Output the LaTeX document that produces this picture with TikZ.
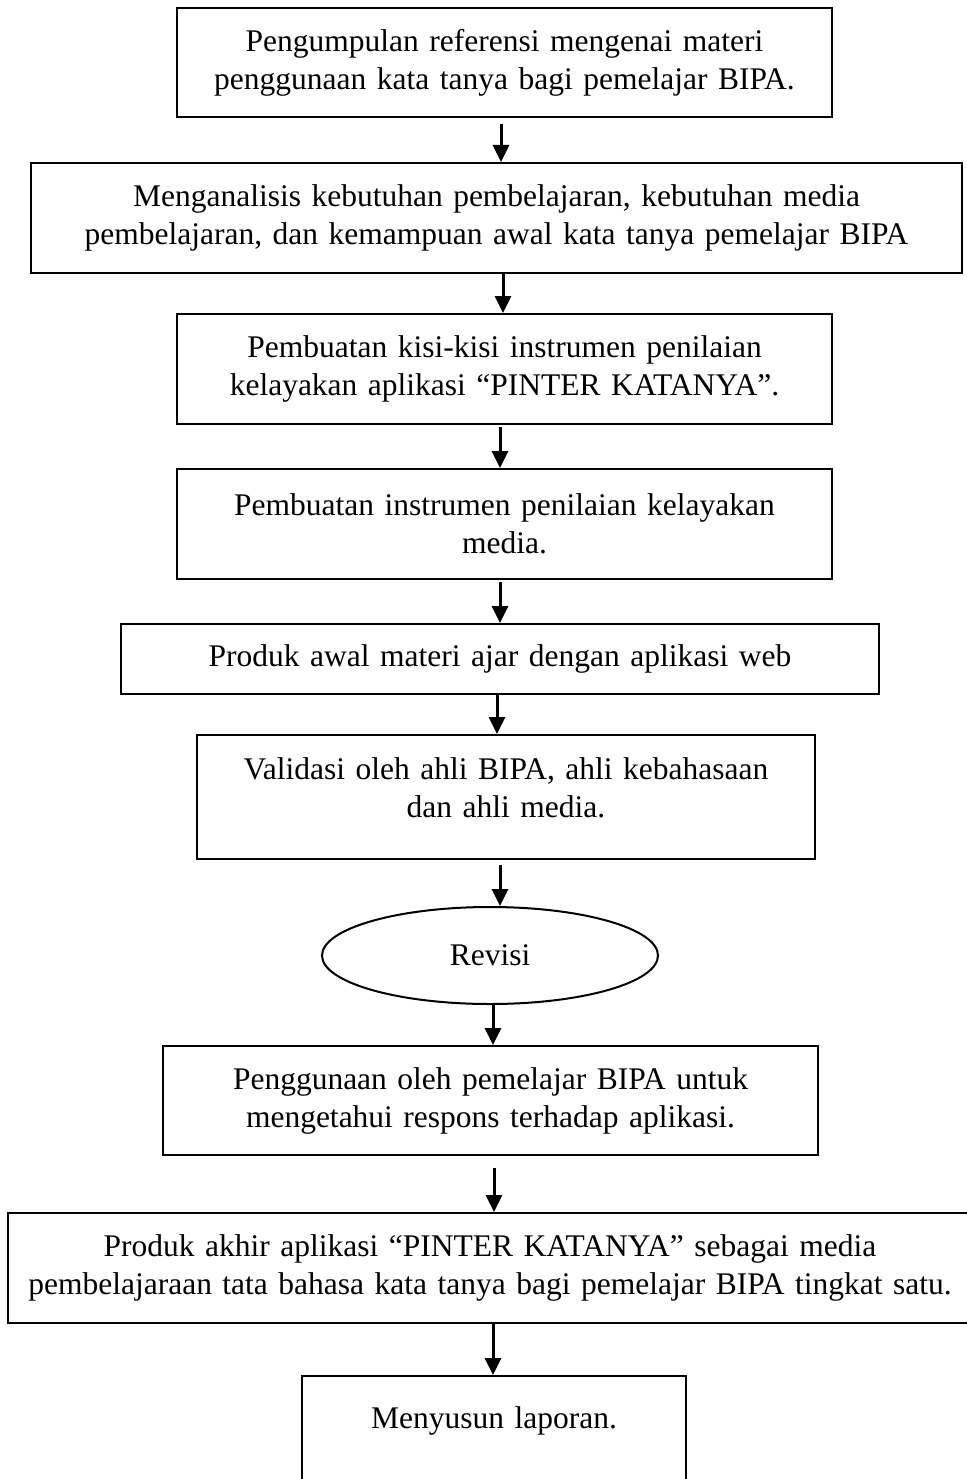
\documentclass[tikz,border=0pt]{standalone}
\usepackage{fontspec}
\setmainfont{Liberation Serif}
\usetikzlibrary{arrows.meta,shapes.geometric,positioning}
\tikzset{
      stepbox/.style   = {draw, rectangle, line width=2pt, inner sep=0pt, align=center,
                          font=\fontsize{31.5}{38}\selectfont},
      revbox/.style    = {draw, ellipse, line width=2pt, inner sep=0pt,
                          font=\fontsize{31.5}{38}\selectfont},
      flowedge/.style  = {black, -{Triangle[length=17pt,width=16pt]}, line width=3pt},
    }

\begin{document}
\begin{tikzpicture}[x=1pt,y=1pt]
        \useasboundingbox (0,0) rectangle (966,-1479);

        \node [stepbox, text width=655pt, minimum height=109pt] (b1) at (504.5,-62.5)
            {Pengumpulan referensi mengenai materi\\ penggunaan kata tanya bagi pemelajar BIPA.};
        \node [stepbox, text width=931pt, minimum height=110pt] (b2) at (496.5,-218)
            {Menganalisis kebutuhan pembelajaran, kebutuhan media\\ pembelajaran, dan kemampuan awal kata tanya pemelajar BIPA};
        \node [stepbox, text width=655pt, minimum height=110pt] (b3) at (504.5,-369)
            {Pembuatan kisi-kisi instrumen penilaian\\ kelayakan aplikasi “PINTER KATANYA”.};
        \node [stepbox, text width=655pt, minimum height=110pt] (b4) at (504.5,-524)
            {Pembuatan instrumen penilaian kelayakan\\ media.};
        \node [stepbox, text width=758pt, minimum height=70pt]  (b5) at (500,-659)
            {Produk awal materi ajar dengan aplikasi web};
        \node [stepbox, text width=618pt, minimum height=124pt, text depth=56pt] (b6) at (506,-797)
            {Validasi oleh ahli BIPA, ahli kebahasaan\\ dan ahli media.};
        \node [revbox, minimum width=336pt, minimum height=97pt] (rev) at (490,-955.5) {Revisi};
        \node [stepbox, text width=655pt, minimum height=109pt] (b7) at (490.5,-1100.5)
            {Penggunaan oleh pemelajar BIPA untuk\\ mengetahui respons terhadap aplikasi.};
        \node [stepbox, text width=964pt, minimum height=110pt] (b8) at (490,-1268)
            {Produk akhir aplikasi “PINTER KATANYA” sebagai media\\ pembelajaraan tata bahasa kata tanya bagi pemelajar BIPA tingkat satu.};
        \node [stepbox, text width=384pt, minimum height=124pt, text depth=40pt] (b9) at (494,-1438)
            {Menyusun laporan.};

        \draw [flowedge, shorten <=6pt] (b1.south -| 501,0) -- (b2.north -| 501,0);
        \draw [flowedge] (b2.south -| 503,0) -- (b3.north -| 503,0);
        \draw [flowedge, shorten <=2pt] (b3.south -| 500,0) -- (b4.north -| 500,0);
        \draw [flowedge, shorten <=2pt] (b4.south -| 500,0) -- (b5.north -| 500,0);
        \draw [flowedge] (b5.south -| 497,0) -- (b6.north -| 497,0);
        \draw [flowedge, shorten <=5pt] (b6.south -| 500,0) -- (rev.north -| 500,0);
        \draw [flowedge] (rev.south -| 493,0) -- (b7.north -| 493,0);
        \draw [flowedge, shorten <=12pt] (b7.south -| 494,0) -- (b8.north -| 494,0);
        \draw [flowedge] (b8.south -| 493,0) -- (b9.north -| 493,0);
\end{tikzpicture}
\end{document}
